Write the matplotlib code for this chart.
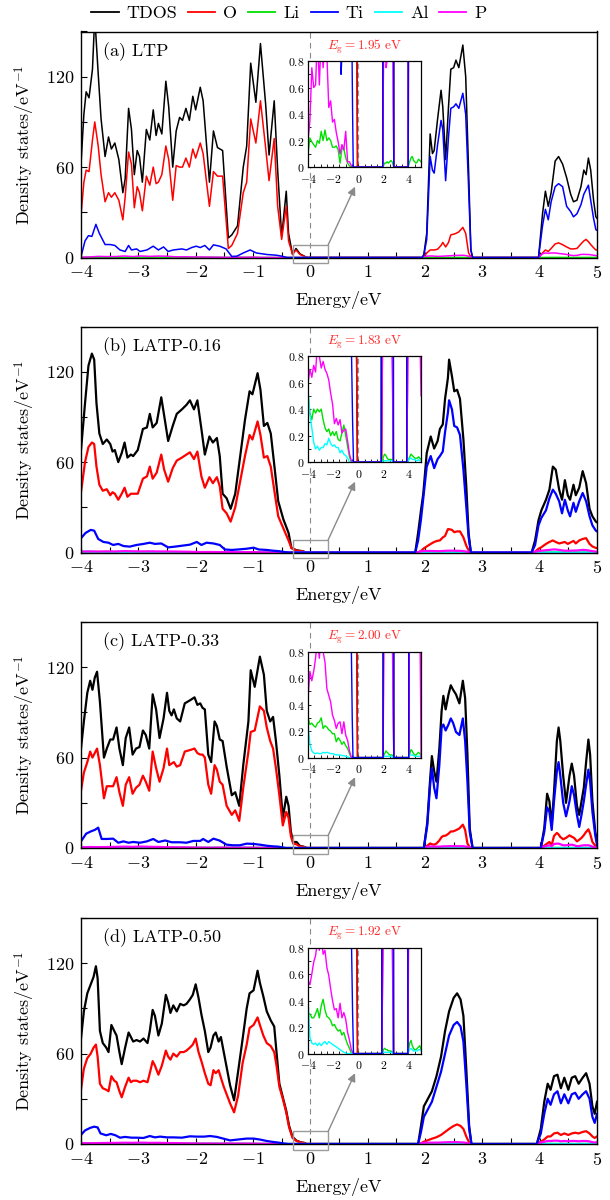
import matplotlib
matplotlib.use("Agg")
import matplotlib.pyplot as plt
from matplotlib.ticker import MultipleLocator, FixedLocator, FuncFormatter
from matplotlib.lines import Line2D
from matplotlib.patches import Rectangle

plt.rcParams.update({
    "font.family": ["cmr10", "DejaVu Serif"],
    "mathtext.fontset": "cm",
    "axes.formatter.use_mathtext": True,
    "font.size": 13,
    "axes.linewidth": 1.0,
})

# ------------------------------------------------------------------
# Panel metadata
# ------------------------------------------------------------------
PANEL_TAGS = ["(a) LTP", "(b) LATP-0.16", "(c) LATP-0.33", "(d) LATP-0.50"]
BAND_GAPS = [1.95, 1.83, 2.00, 1.92]
SPECIES = ["TDOS", "O", "Li", "Ti", "Al", "P"]
X_TICKS = [-4, -3, -2, -1, 0, 1, 2, 3, 4, 5]
Y_TICKS = [0, 60, 120]
INSET_X_TICKS = [-4, -2, 0, 2, 4]
INSET_Y_TICKS = [0, 0.2, 0.4, 0.6, 0.8]

# Common sampling energies for the weak Li / Al / P partial DOS (eV)
E_SMALL_VB = [-4.00, -3.85, -3.70, -3.55, -3.40, -3.25, -3.10, -2.95, -2.80, -2.65,
              -2.50, -2.35, -2.20, -2.05, -1.90, -1.75, -1.60, -1.45, -1.30, -1.15,
              -1.00, -0.85, -0.70, -0.55, -0.40, -0.25]
E_SMALL_CB = [1.80, 1.90, 2.00, 2.10, 2.20, 2.30, 2.40, 2.50, 2.60, 2.70, 2.80, 2.90,
              3.80, 3.90, 4.00, 4.10, 4.20, 4.30, 4.40, 4.50, 4.60, 4.70, 4.80, 4.90, 5.00]

# ------------------------------------------------------------------
# (a) LTP
# ------------------------------------------------------------------
A_E_VB = [-4.00, -3.95, -3.91, -3.86, -3.80, -3.76, -3.70, -3.65, -3.58, -3.52,
          -3.47, -3.41, -3.34, -3.27, -3.23, -3.17, -3.12, -3.07, -3.02, -2.98,
          -2.93, -2.86, -2.80, -2.74, -2.69, -2.65, -2.59, -2.52, -2.47, -2.40,
          -2.34, -2.28, -2.23, -2.17, -2.11, -2.05, -2.00, -1.92, -1.87, -1.76,
          -1.69, -1.62, -1.53, -1.43, -1.37, -1.27, -1.17, -1.11, -1.04, -0.95,
          -0.87, -0.78, -0.72, -0.63, -0.57, -0.50, -0.42, -0.38, -0.31, -0.25,
          -0.18, -0.12, -0.06]
A_TDOS_VB = [62, 95, 110, 106, 125, 160, 122, 92, 67, 80,
             72, 76, 65, 43, 52, 99, 85, 55, 71, 67,
             50, 85, 78, 98, 81, 89, 82, 117, 100, 60,
             84, 93, 91, 99, 91, 107, 98, 113, 104, 50,
             84, 73, 71, 13, 15, 21, 60, 74, 129, 103,
             142, 102, 68, 104, 58, 14, 44, 16, 2, 6,
             2.4, 1.2, 0]
A_O_VB = [28, 50, 58, 57, 78, 90, 74, 55, 37, 43,
          40, 43, 38, 25, 40, 70, 62, 33, 47, 43,
          31, 54, 48, 60, 49, 50, 55, 74, 65, 38,
          61, 60, 60, 66, 60, 72, 66, 76, 69, 34,
          57, 54, 54, 6, 8, 16, 43, 50, 92, 76,
          104, 73, 51, 79, 34, 12, 34, 11, 2, 5,
          2, 1.0, 0]
A_E_TI_VB = [-4.00, -3.93, -3.87, -3.81, -3.74, -3.68, -3.58, -3.49, -3.41, -3.32,
             -3.23, -3.17, -3.12, -3.03, -2.97, -2.85, -2.74, -2.65, -2.56, -2.48,
             -2.39, -2.24, -2.16, -2.07, -1.99, -1.92, -1.84, -1.76, -1.69, -1.58,
             -1.47, -1.37, -1.28, -1.17, -1.05, -0.94, -0.76, -0.59, -0.50, -0.45,
             -0.40]
A_TI_VB = [0.5, 11, 14.5, 14, 22, 16, 8.6, 8.6, 8, 5,
           4, 8, 5, 5.7, 4, 5, 7.5, 5, 7, 4,
           5, 5.7, 5, 6.6, 7.5, 6.6, 8, 5, 8.4, 7.5,
           5.7, 0.7, 0.9, 3, 5, 3, 2, 1.5, 0.9, 0.4,
           0]
A_P_VB = [0.2, 0.35, 0.75, 0.6, 0.62, 1.0, 0.62, 1.0, 0.75, 0.95,
          0.85, 0.45, 0.5, 0.34, 0.36, 0.26, 0.19, 0.1, 0.17, 0.13,
          0.27, 0.04, 0.04, 0.01, 0, 0]
A_LI_VB = [0.1, 0.22, 0.19, 0.17, 0.15, 0.2, 0.18, 0.27, 0.2, 0.28,
           0.2, 0.22, 0.2, 0.15, 0.15, 0.16, 0.13, 0.03, 0.14, 0.14,
           0.07, 0.03, 0.01, 0, 0, 0]
A_E_CB = [1.95, 1.98, 2.03, 2.09, 2.13, 2.16, 2.22, 2.28, 2.31, 2.36,
          2.41, 2.45, 2.50, 2.54, 2.59, 2.66, 2.71, 2.76, 2.80, 2.83,
          3.98, 4.05, 4.10, 4.15, 4.20, 4.27, 4.33, 4.40, 4.47, 4.54,
          4.59, 4.65, 4.72, 4.77, 4.81, 4.85, 4.89, 4.94, 4.98, 5.00]
A_TDOS_CB = [0, 2, 16, 82, 69, 71, 92, 111, 100, 65,
             100, 125, 126, 131, 126, 141, 120, 58, 5, 0,
             0, 29, 44, 34, 43, 64, 67, 62, 53, 42,
             37, 38, 47, 58, 55, 66, 58, 38, 27, 26]
A_TI_CB = [0, 1.5, 12, 67, 58, 56, 75, 91, 85, 51,
           80, 99, 100, 102, 99, 109, 95, 47, 5, 0,
           0, 21, 32, 25, 37, 47, 49, 47, 34, 30.5,
           27, 29, 35, 42, 45, 48, 38, 26, 18.5, 18]
A_O_CB = [0, 0.3, 3, 5, 5, 5, 5.5, 8, 10, 7,
          10, 15, 15.5, 16, 17, 20, 16, 3, 0.5, 0,
          0, 3, 5, 4, 6, 9, 9.7, 8.5, 7, 5.7,
          5.7, 6, 9, 11, 12, 10.5, 8.6, 6.5, 5, 5]
A_P_CB = [0, 0.5, 0.9, 1.0, 1.0, 0.9, 0.75, 0.8, 0.9, 1.0,
          1.1, 1.2, 1.3, 1.4, 1.4, 1.5, 1.3, 0.8, 0.3, 0,
          0, 2.5, 3.0, 2.8, 3.0, 3.0, 2.7, 2.4, 2.0, 1.5,
          1.3, 1.4, 2.0, 2.1, 2.0, 2.0, 1.8, 1.5, 1.3, 1.2]
A_LI_CB = [0, 0, 0.01, 0.03, 0.03, 0.04, 0.03, 0.04, 0.05, 0.04, 0.01, 0,
           0, 0, 0.01, 0.04, 0.07, 0.08, 0.05, 0.04, 0.03, 0.04, 0.06, 0.05, 0.04]

# ------------------------------------------------------------------
# (b) LATP-0.16
# ------------------------------------------------------------------
B_E_VB = [-4.00, -3.93, -3.87, -3.81, -3.77, -3.73, -3.68, -3.62, -3.55, -3.49,
          -3.45, -3.41, -3.35, -3.29, -3.24, -3.19, -3.13, -3.09, -3.01, -2.92,
          -2.85, -2.80, -2.75, -2.68, -2.60, -2.55, -2.48, -2.40, -2.33, -2.24,
          -2.16, -2.10, -2.03, -1.97, -1.90, -1.84, -1.76, -1.70, -1.63, -1.58,
          -1.53, -1.46, -1.39, -1.31, -1.23, -1.14, -1.06, -1.01, -0.92, -0.87,
          -0.81, -0.75, -0.69, -0.62, -0.56, -0.47, -0.38, -0.33, -0.24, -0.14,
          -0.07]
B_TDOS_VB = [68, 99, 124, 132, 128, 99, 79, 72, 75, 72,
             67, 68, 60, 66, 73, 63, 65, 64, 68, 82,
             83, 92, 83, 86, 103, 91, 74, 84, 92, 95,
             98, 101, 95, 101, 82, 65, 77, 73, 76, 64,
             39, 36, 29, 39, 62, 88, 107, 105, 119, 108,
             84, 86, 79, 55, 34, 22, 13, 3, 1.5, 0.9,
             0]
B_O_VB = [40, 60, 70, 73, 72, 57, 45, 41, 42, 38,
          40, 39, 35, 39, 43, 37, 39, 39, 39, 49,
          50.5, 57, 49, 53, 65, 55, 47, 56, 61, 63,
          65, 66.5, 62, 67, 50.5, 43, 50, 46, 50, 44,
          29, 26, 20.5, 30, 46, 64, 78, 75, 87, 78,
          63, 64, 57, 39, 24, 16, 8, 3, 1.2, 0.8,
          0]
B_E_TI_VB = [-4.00, -3.92, -3.83, -3.77, -3.70, -3.61, -3.52, -3.44, -3.35, -3.26,
             -3.15, -3.03, -2.91, -2.80, -2.71, -2.60, -2.48, -2.36, -2.24, -2.10,
             -1.98, -1.90, -1.81, -1.69, -1.58, -1.49, -1.37, -1.26, -1.11, -0.99,
             -0.90, -0.76, -0.65, -0.55, -0.45, -0.38]
B_TI_VB = [9.5, 13, 15, 14.5, 9, 7, 6.5, 5, 5.7, 4.3,
           3.9, 5, 5.7, 6.5, 5.7, 6, 3.4, 3.9, 4.5, 5.2,
           7, 5, 6.5, 6, 5, 2, 1.7, 2, 2.5, 3.2,
           2, 1.7, 1.2, 0.9, 0.3, 0]
B_P_VB = [0.6, 0.7, 0.64, 0.73, 0.68, 0.9, 0.8, 0.71, 0.76, 0.7,
          0.67, 0.62, 0.52, 0.44, 0.29, 0.33, 0.28, 0.32, 0.22, 0.24,
          0.25, 0.16, 0.06, 0.01, 0, 0]
B_LI_VB = [0.5, 0.37, 0.32, 0.4, 0.37, 0.4, 0.38, 0.4, 0.32, 0.26,
           0.23, 0.25, 0.2, 0.23, 0.2, 0.23, 0.17, 0.16, 0.22, 0.28,
           0.2, 0.12, 0.04, 0, 0, 0]
B_AL_VB = [0.55, 0.36, 0.26, 0.15, 0.1, 0.12, 0.09, 0.11, 0.11, 0.14,
           0.13, 0.18, 0.14, 0.12, 0.13, 0.11, 0.11, 0.07, 0.09, 0.06,
           0.05, 0.03, 0, 0, 0, 0]
B_E_CB = [1.83, 1.88, 1.93, 1.97, 2.03, 2.10, 2.16, 2.22, 2.26, 2.31,
          2.35, 2.40, 2.42, 2.47, 2.51, 2.56, 2.61, 2.67, 2.72, 2.76,
          2.80,
          3.86, 3.92, 3.98, 4.03, 4.11, 4.17, 4.23, 4.28, 4.34, 4.39,
          4.44, 4.49, 4.53, 4.59, 4.63, 4.69, 4.75, 4.81, 4.87, 4.92,
          4.98, 5.00]
B_TDOS_CB = [0, 13, 28, 39, 66, 77, 69, 74, 82, 85,
             102, 116, 128, 117, 107, 108, 102, 75, 44, 13,
             0,
             0, 8, 21.5, 28, 35, 41.7, 57, 55, 41.7, 35,
             48, 38, 35, 45, 38, 43, 54, 46, 29, 24,
             20.5, 20]
B_TI_CB = [0, 8, 22, 36, 57, 64, 56, 62, 64, 67,
           80, 93, 101, 95, 84, 83, 78, 55, 30.5, 10.5,
           0,
           0, 5, 18, 23, 28, 36, 41.7, 39, 34, 26,
           35, 28, 24, 33, 27, 34, 39.5, 34, 24, 18,
           14.5, 14]
B_O_CB = [0, 0, 1, 2.5, 4, 5.7, 7, 7.8, 8, 10,
          11, 15.5, 15.5, 15, 13.5, 14, 14, 10, 4.5, 1.5,
          0,
          0, 0.5, 2.5, 3.5, 5.7, 7, 8, 7, 6, 6.5,
          7, 5.7, 6.5, 7.7, 6, 8, 9, 9.5, 5.7, 4,
          3, 3]
B_P_CB = [0, 0.3, 0.8, 1.0, 1.0, 1.0, 0.95, 0.9, 0.9, 1.0,
          1.1, 1.2, 1.2, 1.2, 1.2, 1.1, 1.1, 0.9, 0.6, 0.3,
          0,
          0, 0.5, 1.0, 1.2, 1.5, 1.7, 2.0, 2.0, 1.7, 1.4,
          1.2, 1.2, 1.2, 1.3, 1.3, 1.5, 1.7, 1.6, 1.2, 0.9,
          0.6, 0.5]
B_LI_CB = [0, 0.01, 0.04, 0.06, 0.05, 0.03, 0.02, 0.02, 0.02, 0.02, 0, 0,
           0, 0, 0.02, 0.04, 0.06, 0.05, 0.04, 0.03, 0.03, 0.03, 0.04, 0.03, 0.02]
B_AL_CB = [0, 0, 0.01, 0.01, 0.01, 0.01, 0.01, 0.01, 0.01, 0.01, 0, 0,
           0, 0, 0.01, 0.03, 0.03, 0.02, 0.02, 0.02, 0.01, 0.01, 0.02, 0.01, 0.01]

# ------------------------------------------------------------------
# (c) LATP-0.33
# ------------------------------------------------------------------
C_E_VB = [-4.00, -3.95, -3.89, -3.84, -3.80, -3.76, -3.72, -3.67, -3.60, -3.55,
          -3.49, -3.44, -3.38, -3.33, -3.27, -3.22, -3.16, -3.10, -3.04, -2.98,
          -2.92, -2.87, -2.81, -2.75, -2.69, -2.63, -2.56, -2.50, -2.46, -2.42,
          -2.38, -2.33, -2.27, -2.19, -2.10, -2.02, -1.97, -1.92, -1.88, -1.84,
          -1.78, -1.73, -1.67, -1.63, -1.58, -1.53, -1.46, -1.37, -1.31, -1.24,
          -1.17, -1.08, -1.04, -0.97, -0.88, -0.81, -0.76, -0.70, -0.65, -0.60,
          -0.54, -0.48, -0.42, -0.38, -0.34, -0.30, -0.24, -0.18, -0.12, -0.06]
C_TDOS_VB = [66, 84, 103, 111, 105, 113, 117, 97, 60, 66,
             72, 72, 80, 66, 55, 73, 80, 62, 66, 67,
             78, 75, 66, 102, 92, 73, 86, 103, 91, 88,
             92, 86, 84, 96, 98, 100, 95, 96, 93, 92,
             62, 57, 84, 81, 72, 71, 54, 35, 37, 28,
             55, 84, 118, 107, 127, 115, 91, 84, 87, 71,
             48, 20, 34, 28, 11, 4, 4, 1.3, 0.9, 0]
C_O_VB = [38, 50, 57, 64, 60, 63, 66, 55, 33, 41,
          41, 41, 47, 37, 28, 42, 47, 36, 40, 42,
          48, 44, 38, 64, 53, 44, 53, 66, 55, 56,
          57, 54, 55, 64, 65, 66, 63, 62, 62, 60,
          42, 36, 55, 52, 44, 42, 28, 22, 25, 18,
          40, 64, 77, 78, 94, 91, 80, 71, 66, 53,
          35, 15, 24, 20, 8, 3, 2.4, 1.0, 0.8, 0]
C_E_TI_VB = [-4.00, -3.91, -3.83, -3.76, -3.70, -3.64, -3.55, -3.44, -3.35, -3.26,
             -3.17, -3.09, -2.97, -2.85, -2.74, -2.65, -2.53, -2.42, -2.27, -2.16,
             -2.04, -1.92, -1.87, -1.78, -1.69, -1.58, -1.46, -1.35, -1.23, -1.11,
             -0.99, -0.88, -0.76, -0.65, -0.56, -0.48, -0.42]
C_TI_VB = [4.4, 9.5, 11, 12, 13.5, 6, 6, 6.2, 3.5, 4.4,
           3.5, 4, 3.5, 4.4, 6, 4, 5, 3.8, 3.8, 3.5,
           4.7, 4.7, 6, 4, 6.2, 4.9, 2.2, 1.8, 1.8, 2.9,
           2.7, 2.2, 1.5, 1.1, 0.9, 0.3, 0]
C_P_VB = [0.45, 0.65, 0.58, 0.65, 0.75, 0.9, 0.75, 0.95, 0.8, 0.72,
          0.52, 0.47, 0.42, 0.32, 0.28, 0.22, 0.26, 0.27, 0.18, 0.27,
          0.17, 0.13, 0.05, 0, 0, 0]
C_LI_VB = [0.3, 0.25, 0.26, 0.24, 0.23, 0.26, 0.27, 0.3, 0.22, 0.24,
           0.23, 0.21, 0.2, 0.18, 0.18, 0.12, 0.15, 0.13, 0.1, 0.12,
           0.09, 0.07, 0.03, 0, 0, 0]
C_AL_VB = [0.25, 0.1, 0.05, 0.035, 0.03, 0.035, 0.03, 0.03, 0.04, 0.035,
           0.04, 0.035, 0.03, 0.03, 0.025, 0.02, 0.02, 0.02, 0.015, 0.015,
           0.01, 0.005, 0, 0, 0, 0]
C_E_CB = [1.98, 2.04, 2.09, 2.12, 2.16, 2.20, 2.25, 2.29, 2.32, 2.36,
          2.41, 2.45, 2.49, 2.54, 2.60, 2.66, 2.70, 2.74, 2.78, 2.83,
          4.02, 4.08, 4.13, 4.17, 4.21, 4.25, 4.30, 4.33, 4.36, 4.41,
          4.46, 4.52, 4.56, 4.60, 4.65, 4.69, 4.73, 4.77, 4.81, 4.85,
          4.88, 4.92, 4.97, 5.00]
C_TDOS_CB = [0, 17, 46, 61, 51, 44, 66, 91, 101, 92,
             102, 108, 105, 102, 96, 111, 99.5, 62, 13, 0,
             0, 13, 36, 31, 15, 37, 71, 80, 71, 48,
             30, 48, 56, 48, 28, 22, 31, 40, 57, 72,
             62, 31, 10.7, 4]
C_TI_CB = [0, 15, 42, 53, 40, 33, 55, 80, 82, 78,
           82, 86, 83, 77, 75, 86, 71, 44, 10.7, 0,
           0, 10.7, 27, 24, 12, 31, 51, 57, 48, 30,
           21, 31, 41, 35, 22, 14, 22, 31, 42, 52,
           44, 24, 8.4, 1.8]
C_O_CB = [0, 1.5, 3, 2.5, 2.2, 3, 5, 7.3, 8, 8.2,
          9.5, 11, 11, 11.8, 13, 15.5, 12, 3, 0.5, 0,
          0, 1.5, 3, 4, 2, 8, 10, 9, 7.3, 5.8,
          6.7, 8.4, 7.5, 6.7, 4.4, 5.5, 6.7, 8.5, 10.7, 12.4,
          9.6, 4, 1.5, 0.7]
C_P_CB = [0, 0.9, 1.0, 1.0, 0.95, 0.9, 0.9, 1.0, 1.1, 1.1,
          1.2, 1.2, 1.2, 1.2, 1.2, 1.2, 1.0, 0.7, 0.3, 0,
          0, 1.0, 1.5, 1.8, 1.2, 2.6, 2.9, 2.9, 2.5, 1.8,
          1.8, 2.1, 2.2, 1.8, 1.2, 1.3, 1.6, 1.8, 1.8, 1.8,
          1.5, 0.9, 0.4, 0]
C_LI_CB = [0, 0, 0.01, 0.03, 0.05, 0.04, 0.03, 0.02, 0.02, 0.02, 0, 0,
           0, 0, 0, 0.03, 0.06, 0.05, 0.03, 0.02, 0.02, 0.03, 0.04, 0.03, 0.02]
C_AL_CB = [0, 0, 0.005, 0.01, 0.01, 0.01, 0.01, 0.01, 0.01, 0.005, 0, 0,
           0, 0, 0, 0.02, 0.02, 0.02, 0.015, 0.01, 0.01, 0.01, 0.01, 0.01, 0.005]

# ------------------------------------------------------------------
# (d) LATP-0.50
# ------------------------------------------------------------------
D_E_VB = [-4.00, -3.95, -3.89, -3.83, -3.78, -3.74, -3.71, -3.67, -3.62, -3.56,
          -3.52, -3.47, -3.42, -3.38, -3.33, -3.29, -3.23, -3.17, -3.13, -3.09,
          -3.03, -2.97, -2.91, -2.84, -2.80, -2.75, -2.71, -2.65, -2.59, -2.52,
          -2.48, -2.44, -2.39, -2.33, -2.27, -2.21, -2.16, -2.10, -2.05, -2.00,
          -1.95, -1.90, -1.84, -1.78, -1.74, -1.69, -1.65, -1.60, -1.56, -1.51,
          -1.46, -1.40, -1.33, -1.26, -1.18, -1.11, -1.06, -0.99, -0.92, -0.88,
          -0.82, -0.76, -0.69, -0.63, -0.59, -0.54, -0.48, -0.42, -0.37, -0.31,
          -0.24, -0.16, -0.11, -0.06]
D_TDOS_VB = [70, 88, 100, 106, 111, 118, 110, 75, 67, 64,
             61, 79, 75, 72, 61, 53, 64, 74, 71, 68,
             69, 68, 70, 67, 75, 89, 85, 72, 80, 99,
             94, 87, 92, 88, 93, 92, 93, 96, 99, 106,
             97, 86, 75, 61, 64, 72, 74, 68, 71, 61,
             51, 39, 29, 48, 70, 90, 100, 102, 115, 107,
             98, 88, 82, 78, 61, 40, 31, 22, 12, 4.7,
             2.2, 1.0, 0.8, 0]
D_O_VB = [36, 50, 57, 60, 64, 66, 58, 40, 37, 36,
          35, 45, 42, 41, 35, 31, 38, 44, 41, 42,
          42, 41, 42, 41, 47, 55, 52, 46, 52, 62,
          58, 56, 60, 58, 61, 61, 62, 64, 66, 70,
          61, 55, 47, 40, 39, 49, 47, 49, 44, 38,
          33, 27, 21, 32, 54, 66, 77, 79, 84, 79,
          72, 67, 65, 61, 52, 38, 30, 21, 11, 4,
          2.0, 0.9, 0.7, 0]
D_E_TI_VB = [-4.00, -3.93, -3.84, -3.77, -3.71, -3.66, -3.56, -3.48, -3.40, -3.32,
             -3.23, -3.12, -3.03, -2.91, -2.80, -2.71, -2.62, -2.50, -2.39, -2.24,
             -2.10, -1.98, -1.85, -1.75, -1.63, -1.52, -1.40, -1.28, -1.11, -0.99,
             -0.87, -0.76, -0.64, -0.55, -0.45, -0.38]
D_TI_VB = [6, 9, 10.7, 11.5, 11, 7, 5.8, 6.7, 5.8, 4.2,
           4.7, 4.2, 4.2, 4, 5.3, 4.4, 4.9, 4.4, 4.4, 4.2,
           5.1, 4.9, 4.9, 5.3, 4.7, 3.6, 2.4, 2.9, 3.6, 3.6,
           2.9, 2, 1.3, 0.9, 0.3, 0]
D_P_VB = [0.55, 0.52, 0.6, 0.69, 0.74, 0.85, 0.78, 0.9, 0.75, 0.78,
          0.65, 0.59, 0.49, 0.4, 0.33, 0.34, 0.27, 0.38, 0.27, 0.31,
          0.26, 0.16, 0.1, 0.03, 0, 0]
D_LI_VB = [0.3, 0.3, 0.27, 0.27, 0.3, 0.34, 0.27, 0.36, 0.41, 0.33,
           0.28, 0.27, 0.25, 0.21, 0.22, 0.19, 0.17, 0.18, 0.14, 0.16,
           0.11, 0.07, 0.04, 0, 0, 0]
D_AL_VB = [0.42, 0.12, 0.08, 0.07, 0.08, 0.06, 0.08, 0.06, 0.08, 0.09,
           0.07, 0.09, 0.08, 0.07, 0.06, 0.05, 0.04, 0.03, 0.02, 0.01,
           0.005, 0, 0, 0, 0, 0]
D_E_CB = [1.88, 1.93, 1.98, 2.05, 2.12, 2.20, 2.28, 2.35, 2.42, 2.50,
          2.56, 2.62, 2.67, 2.72, 2.77, 2.81,
          3.95, 4.02, 4.08, 4.14, 4.19, 4.25, 4.31, 4.37, 4.43, 4.50,
          4.56, 4.62, 4.68, 4.75, 4.81, 4.87, 4.92, 4.96, 5.00]
D_TDOS_CB = [0, 12, 25, 30, 35, 45, 58, 75, 88, 97,
             100, 96, 85, 50, 12, 0,
             0, 10, 28, 40, 36, 45, 46, 37, 44, 36,
             44, 45, 40, 44, 47, 40, 25, 20, 28]
D_TI_CB = [0, 8, 18, 23, 28, 38, 48, 60, 72, 79,
           81, 78, 68, 40, 10, 0,
           0, 7, 20, 30, 26, 33, 35, 27, 33, 27,
           33, 34, 30, 33, 35, 30, 18, 14, 20]
D_O_CB = [0, 0.5, 1.5, 2.5, 3.5, 4.5, 6, 8, 10, 12,
          13, 12, 10, 5, 1, 0,
          0, 1.5, 3, 5, 5, 7, 7.5, 6, 7, 6,
          7, 7.5, 7, 8, 8.5, 7, 5, 4, 5]
D_P_CB = [0, 0.5, 0.8, 0.9, 0.9, 0.9, 1.0, 1.1, 1.2, 1.2,
          1.2, 1.1, 1.0, 0.7, 0.3, 0,
          0, 1.0, 1.5, 2.0, 2.0, 2.2, 2.2, 1.8, 2.0, 1.8,
          2.0, 2.0, 1.8, 2.0, 2.0, 1.7, 1.2, 1.0, 1.2]
D_LI_CB = [0, 0, 0.03, 0.04, 0.03, 0.03, 0.02, 0.02, 0.02, 0.01, 0, 0,
           0, 0, 0.02, 0.08, 0.1, 0.06, 0.04, 0.03, 0.03, 0.04, 0.05, 0.06, 0.03]
D_AL_CB = [0, 0, 0.01, 0.01, 0.01, 0.01, 0.01, 0.01, 0.01, 0.005, 0, 0,
           0, 0, 0.01, 0.03, 0.04, 0.03, 0.02, 0.02, 0.02, 0.02, 0.03, 0.03, 0.02]

# ------------------------------------------------------------------
# Styling
# ------------------------------------------------------------------
COLORS = {"TDOS": "#000000", "O": "#ff0000", "Li": "#00e000",
          "Ti": "#0000ff", "Al": "#00ffff", "P": "#ff00ff"}
ZORDER = {"TDOS": 2.0, "O": 2.1, "Li": 2.2, "Al": 2.3, "P": 2.4, "Ti": 2.5}
GREY = "#8a8a8a"


def build_curves(e_vb, tdos_vb, o_vb, e_ti_vb, ti_vb, p_vb, li_vb, al_vb,
                 e_cb, tdos_cb, ti_cb, o_cb, p_cb, li_cb, al_cb):
    curves = {
        "TDOS": (e_vb + e_cb, tdos_vb + tdos_cb),
        "O": (e_vb + e_cb, o_vb + o_cb),
        "Ti": (e_ti_vb + e_cb, ti_vb + ti_cb),
        "P": (E_SMALL_VB + e_cb, p_vb + p_cb),
        "Li": (E_SMALL_VB + E_SMALL_CB, li_vb + li_cb),
    }
    if al_vb is not None:
        curves["Al"] = (E_SMALL_VB + E_SMALL_CB, al_vb + al_cb)
    return curves


PANEL_CURVES = [
    build_curves(A_E_VB, A_TDOS_VB, A_O_VB, A_E_TI_VB, A_TI_VB, A_P_VB, A_LI_VB, None,
                 A_E_CB, A_TDOS_CB, A_TI_CB, A_O_CB, A_P_CB, A_LI_CB, None),
    build_curves(B_E_VB, B_TDOS_VB, B_O_VB, B_E_TI_VB, B_TI_VB, B_P_VB, B_LI_VB, B_AL_VB,
                 B_E_CB, B_TDOS_CB, B_TI_CB, B_O_CB, B_P_CB, B_LI_CB, B_AL_CB),
    build_curves(C_E_VB, C_TDOS_VB, C_O_VB, C_E_TI_VB, C_TI_VB, C_P_VB, C_LI_VB, C_AL_VB,
                 C_E_CB, C_TDOS_CB, C_TI_CB, C_O_CB, C_P_CB, C_LI_CB, C_AL_CB),
    build_curves(D_E_VB, D_TDOS_VB, D_O_VB, D_E_TI_VB, D_TI_VB, D_P_VB, D_LI_VB, D_AL_VB,
                 D_E_CB, D_TDOS_CB, D_TI_CB, D_O_CB, D_P_CB, D_LI_CB, D_AL_CB),
]
LINE_WIDTHS = [1.1, 1.6, 1.6, 1.6]

fig = plt.figure(figsize=(6.1, 12), dpi=100)
FIG_W, FIG_H = 610.0, 1200.0
AX_LEFT, AX_WIDTH, AX_HEIGHT = 81 / FIG_W, 516 / FIG_W, 226 / FIG_H
AX_BOTTOMS_PX = [257.5, 552.5, 848.0, 1144.0]


def style_main(ax):
    ax.set_xlim(-4, 5)
    ax.set_ylim(0, 150)
    ax.xaxis.set_major_locator(FixedLocator(X_TICKS))
    ax.xaxis.set_minor_locator(MultipleLocator(0.5))
    ax.yaxis.set_major_locator(FixedLocator(Y_TICKS))
    ax.yaxis.set_minor_locator(MultipleLocator(30))
    ax.tick_params(which="both", direction="in", length=4, width=0.8,
                   top=False, right=False, labelsize=13, pad=5)
    ax.set_xlabel("Energy/eV", fontsize=13, labelpad=7)
    ax.set_ylabel("Density states/eV$^{-1}$", fontsize=13, labelpad=6)


def style_inset(ins):
    ins.set_xlim(-4, 5)
    ins.set_ylim(0, 0.8)
    ins.xaxis.set_major_locator(FixedLocator(INSET_X_TICKS))
    ins.xaxis.set_minor_locator(MultipleLocator(0.5))
    ins.yaxis.set_major_locator(FixedLocator(INSET_Y_TICKS))
    ins.yaxis.set_minor_locator(MultipleLocator(0.1))
    ins.yaxis.set_major_formatter(FuncFormatter(lambda v, p: f"${v:g}$"))
    ins.tick_params(which="both", direction="in", length=2.2, width=0.6,
                    top=False, right=False, labelsize=8.5)
    ins.tick_params(axis="x", pad=4.0)
    ins.tick_params(axis="y", pad=2.5)
    for sp in ins.spines.values():
        sp.set_linewidth(0.9)


for idx, (tag, gap, curves, lw) in enumerate(zip(PANEL_TAGS, BAND_GAPS, PANEL_CURVES, LINE_WIDTHS)):
    bottom = (FIG_H - AX_BOTTOMS_PX[idx]) / FIG_H
    ax = fig.add_axes([AX_LEFT, bottom, AX_WIDTH, AX_HEIGHT])
    for name in SPECIES:
        if name not in curves:
            continue
        e, v = curves[name]
        ax.plot(e, v, color=COLORS[name], lw=lw, zorder=ZORDER[name],
                solid_joinstyle="round")
    ax.axvline(0, color=GREY, lw=0.8, ls=(0, (5, 4)), zorder=1)
    style_main(ax)
    ax.text(0.043, 0.893, tag, transform=ax.transAxes, fontsize=13)

    # zoom window around the Fermi level and pointer to the inset
    ax.add_patch(Rectangle((-0.31, -3.7), 0.62, 12.0, fill=False, ec="#9a9a9a",
                           lw=1.0, clip_on=False, zorder=6))
    ax.annotate("", xy=(0.78, 47), xytext=(0.31, 8.3),
                arrowprops=dict(arrowstyle="-|>", color=GREY, lw=1.0,
                                mutation_scale=12, shrinkA=0, shrinkB=0),
                zorder=6)

    ins = ax.inset_axes([0.44, 0.40, 0.219, 0.469])
    for name in SPECIES:
        if name not in curves:
            continue
        e, v = curves[name]
        ins.plot(e, v, color=COLORS[name], lw=1.0, zorder=ZORDER[name])
    ins.axvline(0, color="#9a9a9a", lw=1.6, ls=(0, (2.5, 1.5)), zorder=1)
    style_inset(ins)
    ins.text(0.5, 1.05, rf"$E_{{\rm g}} = {gap:.2f}$ eV", transform=ins.transAxes,
             ha="center", va="bottom", color="#ff2a2a", fontsize=9.5)

handles = [Line2D([0], [0], color=COLORS[n], lw=1.3) for n in SPECIES]
fig.legend(handles, SPECIES, loc="center", bbox_to_anchor=(0.474, 0.989), ncol=6,
           frameon=False, fontsize=13, handlelength=1.5, handletextpad=0.45,
           columnspacing=0.6, borderaxespad=0)

fig.savefig("out.png", dpi=100)
